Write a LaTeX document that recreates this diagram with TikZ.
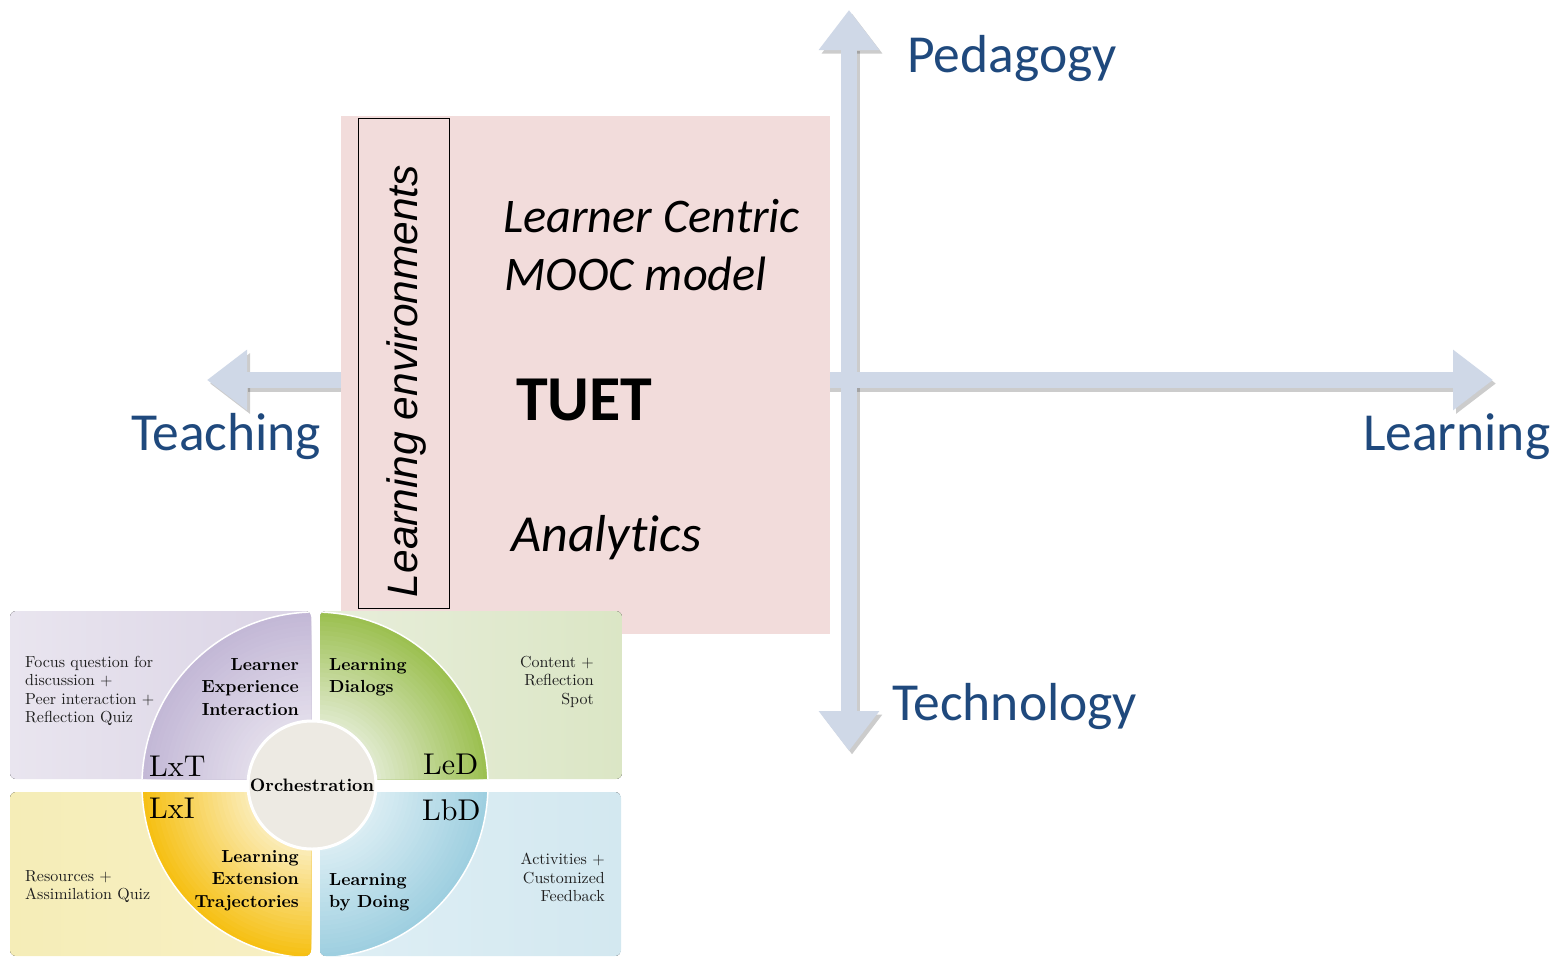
\documentclass[tikz,border=0pt]{standalone}
\usepackage{fontspec}
\newfontfamily\calibri[Ligatures={NoCommon}]{Carlito}
\newfontfamily\arialf{Liberation Sans}
\newfontfamily\cmten[BoldFont=lmroman10-bold.otf]{lmroman10-regular.otf}
\usetikzlibrary{arrows.meta}
\definecolor{axisc}{HTML}{CFD8E7}
\definecolor{labc}{HTML}{1F497D}
\definecolor{pinkc}{HTML}{F2DCDB}
\definecolor{tlbgL}{HTML}{E9E5EF}
\definecolor{tlbgR}{HTML}{DAD3E5}
\definecolor{tlout}{HTML}{C3B8D6}
\definecolor{tlin}{HTML}{E4DFEC}
\definecolor{trbgL}{HTML}{E8EEDB}
\definecolor{trbgR}{HTML}{DBE6C5}
\definecolor{trout}{HTML}{9CC051}
\definecolor{trin}{HTML}{E2EBD1}
\definecolor{blbgL}{HTML}{F5EDB7}
\definecolor{blbgR}{HTML}{F8F0C5}
\definecolor{blout}{HTML}{F6C014}
\definecolor{blin}{HTML}{FBEFC2}
\definecolor{brbgL}{HTML}{DFEFF5}
\definecolor{brbgR}{HTML}{D3E8F0}
\definecolor{brout}{HTML}{9ECFE0}
\definecolor{brin}{HTML}{DCEEF4}
\definecolor{orchc}{HTML}{EDEAE3}
\tikzset{
  axis/.style={draw=axisc, line width=16pt,
    {Triangle[width=58pt,length=40pt]}-{Triangle[width=58pt,length=40pt]}},
  axshadow/.style={axis, draw=black, draw opacity=0.2, fill opacity=0.2},
  sh/.style={xshift=3pt, yshift=-3.5pt},
  axlabel/.style={anchor=base west, inner sep=0pt, text=labc,
    font=\calibri\fontsize{53.5}{60}\selectfont},
  boxtxt/.style={anchor=base west, inner sep=0pt,
    font=\calibri\itshape\fontsize{48.3}{58}\selectfont},
  note/.style={inner sep=0pt, text=black!88, font=\cmten\fontsize{16}{18.5}\selectfont},
  qlabel/.style={inner sep=0pt, font=\cmten\bfseries\fontsize{17.5}{22.5}\selectfont},
  qcode/.style={inner sep=0pt, anchor=base west, font=\cmten\fontsize{30}{32}\selectfont},
}
\newcommand{\quadsector}[6]{%
  \begin{scope}
    \clip[rounded corners=6pt] #1 rectangle #2;
    \fill[left color=#3, right color=#4] #1 rectangle #2;
    \foreach \i in {0,...,24}{
      \pgfmathsetmacro{\rr}{173-\i*(173-62)/24}
      \pgfmathsetmacro{\pp}{100-\i*100/24}
      \fill[#5!\pp!#6] (O) circle (\rr);
    }
    \draw[white, line width=1.5pt] (O) circle (173);
  \end{scope}}
\begin{document}
\begin{tikzpicture}[x=1pt,y=-1pt]
\useasboundingbox[fill=white] (0,0) rectangle (1552,956);
% axes
\coordinate (vtop) at (849,10);
\coordinate (vbot) at (849,751);
\coordinate (hleft) at (207,380);
\coordinate (hright) at (1493,380);
\draw[axshadow] ([sh]hleft) -- ([sh]hright);
\draw[axshadow] ([sh]vbot) -- ([sh]vtop);
\draw[axis] (hleft) -- (hright);
\draw[axis] (vbot) -- (vtop);
% pink box
\node[fill=pinkc, inner sep=0pt, minimum width=489pt, minimum height=518pt, anchor=north west] (lebox) at (341,116) {};
\node[draw=black, line width=1.3pt, inner sep=0pt, minimum width=91pt, minimum height=490pt, anchor=north west] (leframe) at (358,118) {};
\node[rotate=90, inner sep=0pt, font=\arialf\itshape\fontsize{42.5}{50}\selectfont] (letext) at (407,381) {Learning environments};
\node[boxtxt] (lc) at (503,232) {Learner Centric};
\node[boxtxt] (mm) at (504,290) {MOOC model};
\node[anchor=base west, inner sep=0pt, font=\calibri\bfseries\fontsize{64}{70}\selectfont] (tuet) at (516,420) {TUET};
\node[boxtxt, font=\calibri\itshape\fontsize{52}{60}\selectfont] (an) at (511,551) {Analytics};
% axis labels
\node[axlabel] (ped) at (907,72) {Pedagogy};
\node[axlabel] (teach) at (131,450) {Teaching};
\node[axlabel] (learn) at (1363,450) {Learning};
\node[axlabel] (tech) at (892,720) {Technology};
% quadrant diagram
\coordinate (O) at (315,785);
\quadsector{(10,611)}{(311,779)}{tlbgL}{tlbgR}{tlout}{tlin}
\quadsector{(320,611)}{(622,779)}{trbgL}{trbgR}{trout}{trin}
\quadsector{(10,792)}{(311,956)}{blbgL}{blbgR}{blout}{blin}
\quadsector{(320,792)}{(621,956)}{brbgL}{brbgR}{brout}{brin}
\node[circle, fill=orchc, draw=white, line width=3pt, minimum size=128pt, inner sep=0pt] (orch) at (312,785) {};
\node[inner sep=0pt, font=\cmten\bfseries\fontsize{18}{20}\selectfont] (orchtxt) at (312,785) {Orchestration};
% texts
\node[note, anchor=north west, align=left] (tlnote) at (25,656) {Focus question for\\discussion +\\Peer interaction +\\Reflection Quiz};
\node[qlabel, anchor=north east, align=right] (lxtname) at (299,658) {Learner\\Experience\\Interaction};
\node[qcode] (lxt) at (149,776) {LxT};
\node[qlabel, anchor=north west, align=left] (ledname) at (329,658) {Learning\\Dialogs};
\node[note, anchor=north east, align=right] (trnote) at (594,656) {Content +\\Reflection\\Spot};
\node[qcode] (led) at (423,774) {LeD};
\node[qcode] (lxi) at (149,818) {LxI};
\node[qcode] (lbd) at (422,820) {LbD};
\node[qlabel, anchor=north east, align=right] (lxiname) at (299,850) {Learning\\Extension\\Trajectories};
\node[note, anchor=north west, align=left] (blnote) at (25,870) {Resources +\\Assimilation Quiz};
\node[qlabel, anchor=north west, align=left] (lbdname) at (329,873) {Learning\\by Doing};
\node[note, anchor=north east, align=right] (brnote) at (605,853) {Activities +\\Customized\\Feedback};
\end{tikzpicture}
\end{document}
